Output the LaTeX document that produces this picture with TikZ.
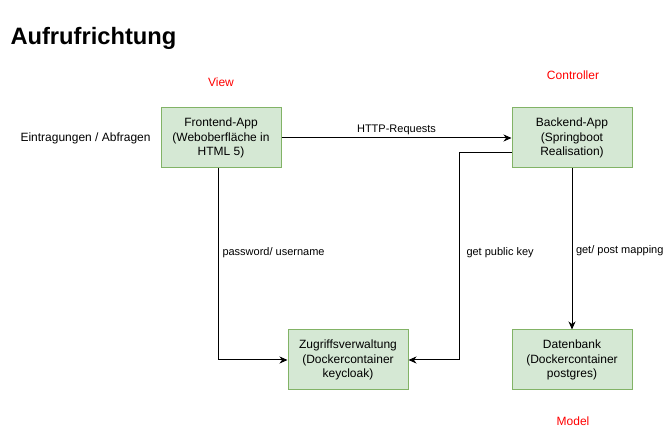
\documentclass[tikz,border=0pt]{standalone}
\usepackage{fontspec}
\setmainfont{Liberation Sans}
\usetikzlibrary{arrows.meta}
\definecolor{boxfill}{HTML}{D5E8D4}
\definecolor{boxline}{HTML}{82B366}
\definecolor{mvcred}{HTML}{FF0000}
\begin{document}
\begin{tikzpicture}[x=1pt,y=-1pt,line width=1pt,
  box/.style={draw=boxline,fill=boxfill,minimum width=120pt,minimum height=60pt,inner sep=0pt,align=center,font=\fontsize{12}{14.5}\selectfont},
  lbl/.style={inner sep=0pt,font=\fontsize{11}{13}\selectfont},
  mvc/.style={inner sep=0pt,anchor=base,text=mvcred,font=\fontsize{12}{14}\selectfont},
  arr/.style={-{Stealth[length=8pt,width=7pt,inset=2.5pt]}}]
\useasboundingbox (0,0) rectangle (664,443);
\node[anchor=base west,inner sep=0pt,font=\bfseries\fontsize{23.7}{28}\selectfont] (title) at (10,45) {Aufrufrichtung};
\node[mvc] (view) at (221,87) {View};
\node[mvc] (ctrl) at (573,80) {Controller};
\node[mvc] (model) at (573,425) {Model};
\node[anchor=base west,inner sep=0pt,font=\fontsize{12}{14}\selectfont] (input) at (20,142) {Eintragungen / Abfragen};
\node[box] (fe) at (221,138) {Frontend-App\\(Weboberfläche in\\HTML 5)};
\node[box] (be) at (572,138) {Backend-App\\(Springboot\\Realisation)};
\node[box] (zv) at (348,360) {Zugriffsverwaltung\\(Dockercontainer\\keycloak)};
\node[box] (db) at (572,360) {Datenbank\\(Dockercontainer\\postgres)};
\draw[arr] (fe) -- node[lbl,above=3pt] (http) {HTTP-Requests} (be);
\draw[arr] ([xshift=-3pt]fe.south) |- (zv.west);
\draw[arr] ([yshift=-15pt]be.west) -- ++(-52,0) |- (zv.east);
\draw[arr] (be) -- (db);
\node[lbl,anchor=base west] (pwd) at (222,256) {password/ username};
\node[lbl,anchor=base west] (key) at (466,256) {get public key};
\node[lbl,anchor=base west] (map) at (575.5,254) {get/ post mapping};
\end{tikzpicture}
\end{document}
